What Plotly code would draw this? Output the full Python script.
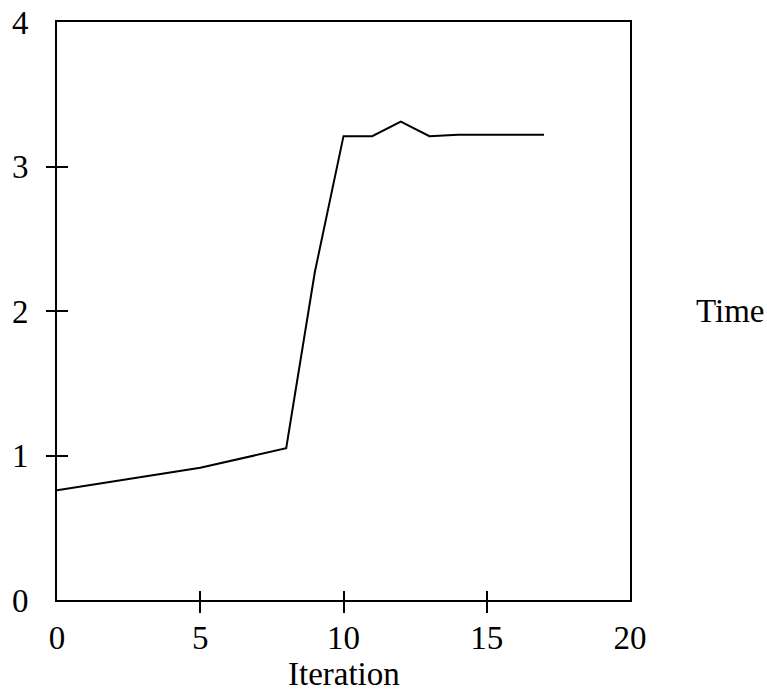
import plotly.graph_objects as go

iterations = [0, 5, 8, 9, 10, 11, 12, 13, 14, 17]
times = [0.76, 0.915, 1.05, 2.27, 3.21, 3.21, 3.31, 3.21, 3.22, 3.22]

x_labels = [0, 5, 10, 15, 20]
y_labels = [0, 1, 2, 3, 4]
x_inner_ticks = [5, 10, 15]
y_inner_ticks = [1, 2, 3]

FONT = dict(family="Liberation Serif, DejaVu Serif, serif", size=33, color="black")

W, H = 767, 694
ML, MR, MT, MB = 57, 137, 22, 94
plot_w = W - ML - MR
plot_h = H - MT - MB

fig = go.Figure()
fig.add_trace(go.Scatter(x=iterations, y=times, mode="lines",
                         line=dict(color="black", width=2), showlegend=False,
                         hoverinfo="skip"))
# invisible trace to anchor the tick-only overlay axes (ticks crossing the frame)
fig.add_trace(go.Scatter(x=[None], y=[None], xaxis="x2", yaxis="y2", showlegend=False))

xr = [0, 20]
yr = [0, 4]
base_axis = dict(showgrid=False, zeroline=False, automargin=False)

fig.update_layout(
    width=W, height=H,
    margin=dict(l=ML, r=MR, t=MT, b=MB),
    paper_bgcolor="white", plot_bgcolor="white",
    font=FONT,
    xaxis=dict(**base_axis, range=xr, tickmode="array", tickvals=x_labels,
               ticktext=[str(v) for v in x_labels], ticks="",
               showline=True, mirror=True, linecolor="black", linewidth=2,
               ticklabelstandoff=7, ticklabeloverflow="allow", tickfont=FONT),
    yaxis=dict(**base_axis, range=yr, tickmode="array", tickvals=y_labels,
               ticktext=[str(v) for v in y_labels], ticks="",
               showline=True, mirror=True, linecolor="black", linewidth=2,
               ticklabelstandoff=20, ticklabeloverflow="allow", tickfont=FONT),
    xaxis2=dict(**base_axis, range=xr, overlaying="x", anchor="free",
                position=10 / plot_h, side="bottom", tickmode="array",
                tickvals=x_inner_ticks, ticks="outside", ticklen=22, tickwidth=1.5,
                tickcolor="black", showticklabels=False, showline=False),
    yaxis2=dict(**base_axis, range=yr, overlaying="y", anchor="free",
                position=11 / plot_w, side="left", tickmode="array",
                tickvals=y_inner_ticks, ticks="outside", ticklen=22, tickwidth=1.5,
                tickcolor="black", showticklabels=False, showline=False),
    annotations=[
        dict(text="Iteration", xref="paper", yref="paper", x=0.5, y=-0.093,
             xanchor="center", yanchor="top", showarrow=False, font=FONT),
        dict(text="Time", xref="paper", yref="y", x=1.112, y=2,
             xanchor="left", yanchor="middle", showarrow=False, font=FONT),
    ],
)

fig.write_html("out.html",
               config={"displayModeBar": False},
               post_script="document.body.style.margin='0px';"
                           "document.body.style.overflow='hidden';")
